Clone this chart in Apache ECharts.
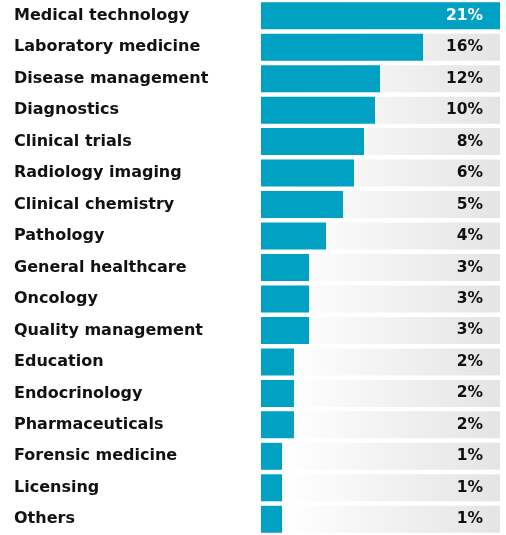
<!DOCTYPE html>
<html>
<head>
<meta charset="utf-8">
<script src="https://cdn.jsdelivr.net/npm/echarts@6/dist/echarts.min.js"></script>
<style>
html,body{margin:0;padding:0;background:#fff;}
#chart{width:506px;height:535px;}
</style>
</head>
<body>
<div id="chart"></div>
<script>
const categories = ["Medical technology","Laboratory medicine","Disease management","Diagnostics","Clinical trials","Radiology imaging","Clinical chemistry","Pathology","General healthcare","Oncology","Quality management","Education","Endocrinology","Pharmaceuticals","Forensic medicine","Licensing","Others"];
const percentLabels = [21,16,12,10,8,6,5,4,3,3,3,2,2,2,1,1,1];
// bar lengths (index, top bar = 100)
const barLengths = [100,67.8,49.8,47.7,43.1,38.9,34.3,27.2,20.1,20.1,20.1,13.8,13.8,13.8,8.8,8.8,8.8];
const axisMax = 100;

const chart = echarts.init(document.getElementById('chart'));
const font = '"DejaVu Sans", "Liberation Sans", Arial, sans-serif';
chart.setOption({
  animation: false,
  grid: {left: 261, right: 6, top: -1.4, bottom: -2.4, containLabel: false},
  xAxis: {type: 'value', min: 0, max: axisMax, show: false},
  yAxis: {
    type: 'category', inverse: true, data: categories,
    axisLine: {show: false}, axisTick: {show: false}, splitLine: {show: false},
    axisLabel: {align: 'left', margin: 247, color: '#111', fontFamily: font, fontWeight: 'bold', fontSize: 16, padding: [3, 0, 0, 0]}
  },
  series: [
    {
      type: 'bar', silent: true, barWidth: 27, barGap: '-100%',
      data: categories.map(() => axisMax),
      itemStyle: {color: {type: 'linear', x: 0, y: 0, x2: 1, y2: 0,
        colorStops: [{offset: 0, color: '#ffffff'}, {offset: 0.1, color: '#ffffff'}, {offset: 1, color: '#e4e4e4'}]}}
    },
    {
      type: 'bar', silent: true, barWidth: 27, barGap: '-100%',
      data: barLengths,
      itemStyle: {color: '#00a1c3'}
    },
    {
      type: 'bar', silent: true, barWidth: 27, barGap: '-100%',
      data: percentLabels.map((p, i) => ({
        value: axisMax,
        label: {color: i === 0 ? '#ffffff' : '#111111'}
      })),
      itemStyle: {color: 'rgba(0,0,0,0)'},
      label: {
        show: true, position: 'insideRight', distance: 17,
        fontFamily: font, fontWeight: 'bold', fontSize: 15.5, padding: [5, 0, 0, 0],
        formatter: (p) => percentLabels[p.dataIndex] + '%'
      }
    }
  ]
});
</script>
</body>
</html>
